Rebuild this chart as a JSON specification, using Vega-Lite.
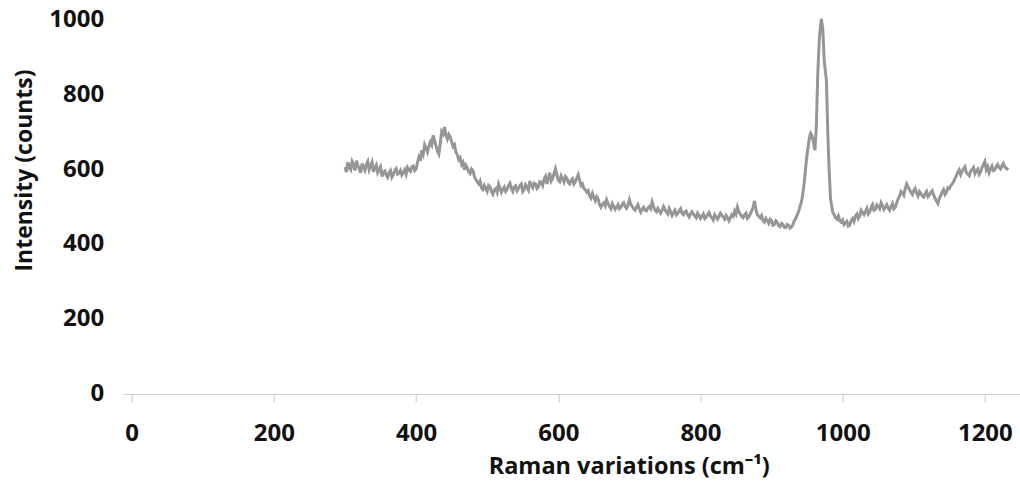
{
  "$schema": "https://vega.github.io/schema/vega-lite/v6.json",
  "width": 897,
  "height": 375,
  "autosize": {"type": "none"},
  "padding": {"left": 122.7, "top": 19, "right": 0, "bottom": 91},
  "background": "white",
  "config": {"view": {"stroke": null}, "font": "Open Sans"},
  "data": {"values": [
    {"v":300,"I":605},{"v":302,"I":592},{"v":304,"I":618},{"v":306,"I":604},{"v":308,"I":598},{"v":310,"I":620},{"v":312,"I":612},{"v":314,"I":596},{"v":316,"I":622},{"v":318,"I":610},
    {"v":320,"I":601},{"v":322,"I":590},{"v":324,"I":615},{"v":326,"I":604},{"v":328,"I":596},{"v":330,"I":612},{"v":332,"I":620},{"v":334,"I":598},{"v":336,"I":608},{"v":338,"I":618},
    {"v":340,"I":592},{"v":342,"I":604},{"v":344,"I":611},{"v":346,"I":590},{"v":348,"I":598},{"v":350,"I":606},{"v":352,"I":580},{"v":354,"I":592},{"v":356,"I":595},{"v":358,"I":584},
    {"v":360,"I":578},{"v":362,"I":590},{"v":364,"I":596},{"v":366,"I":578},{"v":368,"I":585},{"v":370,"I":596},{"v":372,"I":601},{"v":374,"I":586},{"v":376,"I":588},{"v":378,"I":596},
    {"v":380,"I":584},{"v":382,"I":590},{"v":384,"I":598},{"v":386,"I":586},{"v":388,"I":604},{"v":390,"I":598},{"v":392,"I":594},{"v":394,"I":606},{"v":396,"I":608},{"v":398,"I":596},
    {"v":400,"I":600},{"v":402,"I":618},{"v":404,"I":632},{"v":406,"I":622},{"v":408,"I":650},{"v":410,"I":640},{"v":412,"I":665},{"v":414,"I":656},{"v":416,"I":645},{"v":418,"I":660},
    {"v":420,"I":672},{"v":422,"I":664},{"v":424,"I":690},{"v":426,"I":676},{"v":428,"I":662},{"v":430,"I":648},{"v":432,"I":640},{"v":434,"I":668},{"v":436,"I":700},{"v":438,"I":694},
    {"v":440,"I":712},{"v":442,"I":690},{"v":444,"I":680},{"v":446,"I":692},{"v":448,"I":685},{"v":450,"I":672},{"v":452,"I":660},{"v":454,"I":665},{"v":456,"I":645},{"v":458,"I":638},
    {"v":460,"I":625},{"v":462,"I":630},{"v":464,"I":612},{"v":466,"I":618},{"v":468,"I":598},{"v":470,"I":610},{"v":472,"I":603},{"v":474,"I":592},{"v":476,"I":588},{"v":478,"I":600},
    {"v":480,"I":596},{"v":482,"I":580},{"v":484,"I":572},{"v":486,"I":566},{"v":488,"I":560},{"v":490,"I":568},{"v":492,"I":550},{"v":494,"I":545},{"v":496,"I":556},{"v":498,"I":548},
    {"v":500,"I":540},{"v":502,"I":556},{"v":504,"I":552},{"v":506,"I":540},{"v":508,"I":533},{"v":510,"I":545},{"v":512,"I":548},{"v":514,"I":538},{"v":516,"I":560},{"v":518,"I":550},
    {"v":520,"I":538},{"v":522,"I":546},{"v":524,"I":552},{"v":526,"I":540},{"v":528,"I":545},{"v":530,"I":556},{"v":532,"I":562},{"v":534,"I":548},{"v":536,"I":540},{"v":538,"I":552},
    {"v":540,"I":555},{"v":542,"I":542},{"v":544,"I":548},{"v":546,"I":556},{"v":548,"I":560},{"v":550,"I":540},{"v":552,"I":546},{"v":554,"I":558},{"v":556,"I":552},{"v":558,"I":544},
    {"v":560,"I":568},{"v":562,"I":556},{"v":564,"I":550},{"v":566,"I":562},{"v":568,"I":560},{"v":570,"I":548},{"v":572,"I":552},{"v":574,"I":566},{"v":576,"I":565},{"v":578,"I":556},
    {"v":580,"I":572},{"v":582,"I":580},{"v":584,"I":560},{"v":586,"I":576},{"v":588,"I":590},{"v":590,"I":568},{"v":592,"I":575},{"v":594,"I":588},{"v":596,"I":600},{"v":598,"I":584},
    {"v":600,"I":570},{"v":602,"I":566},{"v":604,"I":582},{"v":606,"I":574},{"v":608,"I":565},{"v":610,"I":580},{"v":612,"I":576},{"v":614,"I":564},{"v":616,"I":560},{"v":618,"I":570},
    {"v":620,"I":574},{"v":622,"I":560},{"v":624,"I":566},{"v":626,"I":576},{"v":628,"I":585},{"v":630,"I":570},{"v":632,"I":556},{"v":634,"I":560},{"v":636,"I":548},{"v":638,"I":545},
    {"v":640,"I":538},{"v":642,"I":542},{"v":644,"I":528},{"v":646,"I":522},{"v":648,"I":535},{"v":650,"I":524},{"v":652,"I":515},{"v":654,"I":526},{"v":656,"I":520},{"v":658,"I":505},
    {"v":660,"I":498},{"v":662,"I":506},{"v":664,"I":510},{"v":666,"I":502},{"v":668,"I":518},{"v":670,"I":508},{"v":672,"I":500},{"v":674,"I":494},{"v":676,"I":508},{"v":678,"I":500},
    {"v":680,"I":492},{"v":682,"I":498},{"v":684,"I":505},{"v":686,"I":494},{"v":688,"I":498},{"v":690,"I":506},{"v":692,"I":510},{"v":694,"I":500},{"v":696,"I":495},{"v":698,"I":504},
    {"v":700,"I":518},{"v":702,"I":506},{"v":704,"I":500},{"v":706,"I":494},{"v":708,"I":490},{"v":710,"I":498},{"v":712,"I":505},{"v":714,"I":494},{"v":716,"I":485},{"v":718,"I":492},
    {"v":720,"I":498},{"v":722,"I":490},{"v":724,"I":488},{"v":726,"I":496},{"v":728,"I":500},{"v":730,"I":494},{"v":732,"I":512},{"v":734,"I":500},{"v":736,"I":490},{"v":738,"I":486},
    {"v":740,"I":495},{"v":742,"I":488},{"v":744,"I":482},{"v":746,"I":490},{"v":748,"I":500},{"v":750,"I":492},{"v":752,"I":485},{"v":754,"I":480},{"v":756,"I":495},{"v":758,"I":486},
    {"v":760,"I":476},{"v":762,"I":484},{"v":764,"I":490},{"v":766,"I":478},{"v":768,"I":482},{"v":770,"I":488},{"v":772,"I":494},{"v":774,"I":482},{"v":776,"I":478},{"v":778,"I":486},
    {"v":780,"I":488},{"v":782,"I":478},{"v":784,"I":472},{"v":786,"I":480},{"v":788,"I":486},{"v":790,"I":480},{"v":792,"I":475},{"v":794,"I":470},{"v":796,"I":482},{"v":798,"I":476},
    {"v":800,"I":468},{"v":802,"I":474},{"v":804,"I":480},{"v":806,"I":468},{"v":808,"I":472},{"v":810,"I":478},{"v":812,"I":484},{"v":814,"I":474},{"v":816,"I":470},{"v":818,"I":464},
    {"v":820,"I":478},{"v":822,"I":472},{"v":824,"I":466},{"v":826,"I":474},{"v":828,"I":482},{"v":830,"I":476},{"v":832,"I":472},{"v":834,"I":466},{"v":836,"I":476},{"v":838,"I":470},
    {"v":840,"I":462},{"v":842,"I":470},{"v":844,"I":478},{"v":846,"I":474},{"v":848,"I":488},{"v":850,"I":480},{"v":852,"I":498},{"v":854,"I":486},{"v":856,"I":480},{"v":858,"I":474},
    {"v":860,"I":470},{"v":862,"I":478},{"v":864,"I":482},{"v":866,"I":468},{"v":868,"I":472},{"v":870,"I":480},{"v":872,"I":488},{"v":874,"I":498},{"v":876,"I":515},{"v":878,"I":492},
    {"v":880,"I":478},{"v":882,"I":474},{"v":884,"I":470},{"v":886,"I":476},{"v":888,"I":462},{"v":890,"I":458},{"v":892,"I":468},{"v":894,"I":462},{"v":896,"I":455},{"v":898,"I":466},
    {"v":900,"I":462},{"v":902,"I":450},{"v":904,"I":452},{"v":906,"I":462},{"v":908,"I":458},{"v":910,"I":448},{"v":912,"I":446},{"v":914,"I":455},{"v":916,"I":452},{"v":918,"I":444},
    {"v":920,"I":444},{"v":922,"I":452},{"v":924,"I":450},{"v":926,"I":442},{"v":928,"I":445},{"v":930,"I":452},{"v":932,"I":462},{"v":934,"I":468},{"v":936,"I":478},{"v":938,"I":486},
    {"v":940,"I":500},{"v":942,"I":512},{"v":944,"I":535},{"v":946,"I":565},{"v":948,"I":605},{"v":950,"I":640},{"v":952,"I":668},{"v":954,"I":690},{"v":955,"I":695},{"v":957,"I":688},
    {"v":959,"I":670},{"v":961,"I":650},{"v":963,"I":715},{"v":965,"I":855},{"v":967,"I":940},{"v":968,"I":965},{"v":970,"I":1000},{"v":972,"I":975},{"v":974,"I":890},{"v":976,"I":855},
    {"v":977,"I":840},{"v":978,"I":780},{"v":979,"I":700},{"v":981,"I":595},{"v":983,"I":520},{"v":986,"I":485},{"v":988,"I":478},{"v":990,"I":470},{"v":992,"I":466},{"v":994,"I":475},
    {"v":996,"I":462},{"v":998,"I":458},{"v":1000,"I":464},{"v":1002,"I":452},{"v":1004,"I":456},{"v":1006,"I":460},{"v":1008,"I":448},{"v":1010,"I":450},{"v":1012,"I":462},{"v":1014,"I":468},
    {"v":1016,"I":460},{"v":1018,"I":475},{"v":1020,"I":480},{"v":1022,"I":468},{"v":1024,"I":474},{"v":1026,"I":490},{"v":1028,"I":484},{"v":1030,"I":478},{"v":1032,"I":486},{"v":1034,"I":495},
    {"v":1036,"I":480},{"v":1038,"I":485},{"v":1040,"I":498},{"v":1042,"I":505},{"v":1044,"I":490},{"v":1046,"I":492},{"v":1048,"I":504},{"v":1050,"I":500},{"v":1052,"I":494},{"v":1054,"I":510},
    {"v":1056,"I":502},{"v":1058,"I":492},{"v":1060,"I":498},{"v":1062,"I":505},{"v":1064,"I":496},{"v":1066,"I":490},{"v":1068,"I":500},{"v":1070,"I":508},{"v":1072,"I":494},{"v":1074,"I":498},
    {"v":1076,"I":510},{"v":1078,"I":520},{"v":1080,"I":528},{"v":1082,"I":540},{"v":1084,"I":536},{"v":1086,"I":530},{"v":1088,"I":548},{"v":1090,"I":560},{"v":1092,"I":552},{"v":1094,"I":545},
    {"v":1096,"I":538},{"v":1098,"I":532},{"v":1100,"I":542},{"v":1102,"I":548},{"v":1104,"I":536},{"v":1106,"I":528},{"v":1108,"I":540},{"v":1110,"I":535},{"v":1112,"I":528},{"v":1114,"I":525},
    {"v":1116,"I":534},{"v":1118,"I":540},{"v":1120,"I":526},{"v":1122,"I":530},{"v":1124,"I":538},{"v":1126,"I":542},{"v":1128,"I":530},{"v":1130,"I":522},{"v":1132,"I":514},{"v":1134,"I":508},
    {"v":1136,"I":522},{"v":1138,"I":530},{"v":1140,"I":538},{"v":1142,"I":545},{"v":1144,"I":532},{"v":1146,"I":538},{"v":1148,"I":550},{"v":1150,"I":548},{"v":1152,"I":556},{"v":1154,"I":560},
    {"v":1156,"I":566},{"v":1158,"I":575},{"v":1160,"I":582},{"v":1162,"I":592},{"v":1164,"I":598},{"v":1166,"I":585},{"v":1168,"I":594},{"v":1170,"I":600},{"v":1172,"I":606},{"v":1174,"I":590},
    {"v":1176,"I":586},{"v":1178,"I":582},{"v":1180,"I":594},{"v":1182,"I":598},{"v":1184,"I":604},{"v":1186,"I":588},{"v":1188,"I":596},{"v":1190,"I":600},{"v":1192,"I":586},{"v":1194,"I":592},
    {"v":1196,"I":604},{"v":1198,"I":612},{"v":1200,"I":620},{"v":1202,"I":598},{"v":1204,"I":606},{"v":1206,"I":590},{"v":1208,"I":600},{"v":1210,"I":608},{"v":1212,"I":596},{"v":1214,"I":598},
    {"v":1216,"I":606},{"v":1218,"I":612},{"v":1220,"I":604},{"v":1222,"I":600},{"v":1224,"I":608},{"v":1226,"I":615},{"v":1228,"I":606},{"v":1230,"I":602},{"v":1233,"I":598}
  ]},
  "mark": {"type": "line", "color": "#969696", "strokeWidth": 3, "interpolate": "linear"},
  "encoding": {
    "x": {
      "field": "v", "type": "quantitative",
      "scale": {"domain": [-12.7, 1249], "nice": false, "zero": false},
      "axis": {
        "values": [0, 200, 400, 600, 800, 1000, 1200],
        "format": "d",
        "title": "Raman variations (cm⁻¹)",
        "grid": false,
        "domainColor": "#d0d0d0", "domainWidth": 1,
        "tickColor": "#c8c8c8", "tickSize": 8, "tickWidth": 1,
        "labelFont": "Open Sans", "labelFontWeight": "bold", "labelFontSize": 24, "labelColor": "#111111",
        "labelPadding": 20,
        "titleFont": "Open Sans", "titleFontWeight": "bold", "titleFontSize": 23.5, "titleColor": "#111111",
        "titleX": 506, "titleY": 73, "titleAnchor": null, "titleAlign": "center", "titleBaseline": "middle"
      }
    },
    "y": {
      "field": "I", "type": "quantitative",
      "scale": {"domain": [0, 1000], "nice": false},
      "axis": {
        "values": [0, 200, 400, 600, 800, 1000],
        "format": "d",
        "title": "Intensity (counts)",
        "grid": false, "domain": false, "ticks": false,
        "labelFont": "Open Sans", "labelFontWeight": "bold", "labelFontSize": 24, "labelColor": "#111111",
        "labelPadding": 19,
        "titleFont": "Open Sans", "titleFontWeight": "bold", "titleFontSize": 23, "titleColor": "#111111",
        "titleAngle": -90, "titleX": -97.7, "titleY": 151, "titleAlign": "center", "titleBaseline": "middle"
      }
    }
  }
}
